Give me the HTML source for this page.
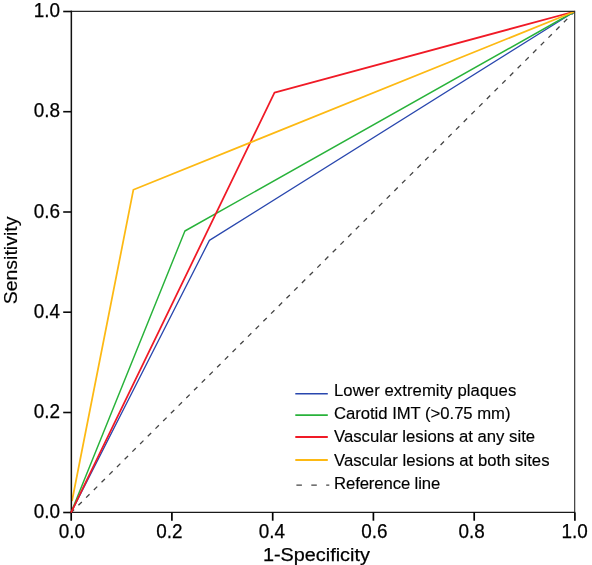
<!DOCTYPE html>
<html><head><meta charset="utf-8">
<style>
html,body{margin:0;padding:0;background:#fff;}
svg{display:block;font-family:"Liberation Sans",sans-serif;}
text{fill:#000;stroke:#000;stroke-width:0.15px;}
.ax text,text.ax{stroke-width:0.25px;}
</style></head><body>
<svg width="592" height="565" viewBox="0 0 592 565">
<rect width="592" height="565" fill="#fff"/>
<!-- reference -->
<line x1="71" y1="512.7" x2="574.7" y2="11.5" stroke="#444" stroke-width="1.3" stroke-dasharray="4.8 6.07" stroke-dashoffset="0.4"/>
<!-- curves -->
<polyline points="71,512.7 209.4,240.35 574.7,11.5" fill="none" stroke="#2947ae" stroke-width="1.3" stroke-linejoin="round"/>
<polyline points="71,512.7 184.9,231 574.7,11.5" fill="none" stroke="#28b23a" stroke-width="1.45" stroke-linejoin="round"/>
<polyline points="71,512.7 274.5,92.65 574.7,11.5" fill="none" stroke="#f01a26" stroke-width="1.75" stroke-linejoin="round"/>
<polyline points="72,501 133.4,189.7 574.7,11.5" fill="none" stroke="#fdb913" stroke-width="1.75" stroke-linejoin="round"/>
<!-- frame -->
<polyline points="71,11.4 574.7,11.4 574.7,512.7" fill="none" stroke="#2a2a2a" stroke-width="1.1"/>
<line x1="71.35" y1="10.8" x2="71.35" y2="513" stroke="#111" stroke-width="1.5"/>
<line x1="70.7" y1="512.35" x2="575.2" y2="512.35" stroke="#1a1a1a" stroke-width="1.15"/>
<g stroke="#0a0a0a" stroke-width="1.6">
<line x1="63.2" y1="512.5" x2="71.4" y2="512.5"/>
<line x1="63.2" y1="412.5" x2="71.4" y2="412.5"/>
<line x1="63.2" y1="312.2" x2="71.4" y2="312.2"/>
<line x1="63.2" y1="212" x2="71.4" y2="212"/>
<line x1="63.2" y1="111.7" x2="71.4" y2="111.7"/>
<line x1="63.2" y1="11.5" x2="71.4" y2="11.5"/>
<line y1="520.7" x1="71.2" y2="512.4" x2="71.2" stroke="#000" stroke-width="1.7"/>
<line y1="520.7" x1="171.9" y2="512.4" x2="171.9" stroke="#000" stroke-width="1.7"/>
<line y1="520.7" x1="272.7" y2="512.4" x2="272.7" stroke="#000" stroke-width="1.7"/>
<line y1="520.7" x1="373.4" y2="512.4" x2="373.4" stroke="#000" stroke-width="1.7"/>
<line y1="520.7" x1="474.2" y2="512.4" x2="474.2" stroke="#000" stroke-width="1.7"/>
<line y1="520.7" x1="574.9" y2="512.4" x2="574.9" stroke="#000" stroke-width="1.7"/>
</g>
<polyline points="71,512.7 73.2,508.2" fill="none" stroke="#f01a26" stroke-width="1.75"/>
<g class="ax" font-size="19.6" text-anchor="end">
<text x="60" y="518" textLength="26.3" lengthAdjust="spacingAndGlyphs">0.0</text>
<text x="60" y="418.3" textLength="26.3" lengthAdjust="spacingAndGlyphs">0.2</text>
<text x="60" y="318" textLength="26.3" lengthAdjust="spacingAndGlyphs">0.4</text>
<text x="60" y="217.8" textLength="26.3" lengthAdjust="spacingAndGlyphs">0.6</text>
<text x="60" y="117.3" textLength="26.3" lengthAdjust="spacingAndGlyphs">0.8</text>
<text x="60" y="16.8" textLength="26.3" lengthAdjust="spacingAndGlyphs">1.0</text>
</g>
<g class="ax" font-size="19.6" text-anchor="middle">
<text x="71.9" y="537.8" textLength="26.3" lengthAdjust="spacingAndGlyphs">0.0</text>
<text x="169.4" y="537.8" textLength="26.3" lengthAdjust="spacingAndGlyphs">0.2</text>
<text x="271.8" y="537.8" textLength="26.3" lengthAdjust="spacingAndGlyphs">0.4</text>
<text x="374.5" y="537.8" textLength="26.3" lengthAdjust="spacingAndGlyphs">0.6</text>
<text x="471.7" y="537.8" textLength="26.3" lengthAdjust="spacingAndGlyphs">0.8</text>
<text x="574.6" y="537.8" textLength="26.3" lengthAdjust="spacingAndGlyphs">1.0</text>
</g>
<text class="ax" x="262.9" y="560.5" font-size="18.8" textLength="107" lengthAdjust="spacingAndGlyphs">1-Specificity</text>
<text transform="translate(16.7,304.3) rotate(-90)" font-size="18.8" textLength="87.7" lengthAdjust="spacingAndGlyphs">Sensitivity</text>
<!-- legend -->
<g stroke-width="1.6">
<line x1="295.3" y1="393.8" x2="327.8" y2="393.8" stroke="#2947ae"/>
<line x1="295.3" y1="415.1" x2="327.8" y2="415.1" stroke="#28b23a"/>
<line x1="295.3" y1="436.9" x2="327.8" y2="436.9" stroke="#f01a26" stroke-width="2"/>
<line x1="295.3" y1="460.1" x2="327.8" y2="460.1" stroke="#fdb913" stroke-width="2"/>
<line x1="296.4" y1="485.1" x2="329.3" y2="485.1" stroke="#444" stroke-width="1.3" stroke-dasharray="5.5 9.4"/>
</g>
<g font-size="16.7">
<text x="334" y="396" textLength="182.3">Lower extremity plaques</text>
<text x="334" y="418.6" textLength="176.5">Carotid IMT (&gt;0.75 mm)</text>
<text x="334" y="442.3" textLength="201.1">Vascular lesions at any site</text>
<text x="334" y="465.7" textLength="215.5">Vascular lesions at both sites</text>
<text x="334" y="488.6" textLength="106.3">Reference line</text>
</g>
</svg>
</body></html>
